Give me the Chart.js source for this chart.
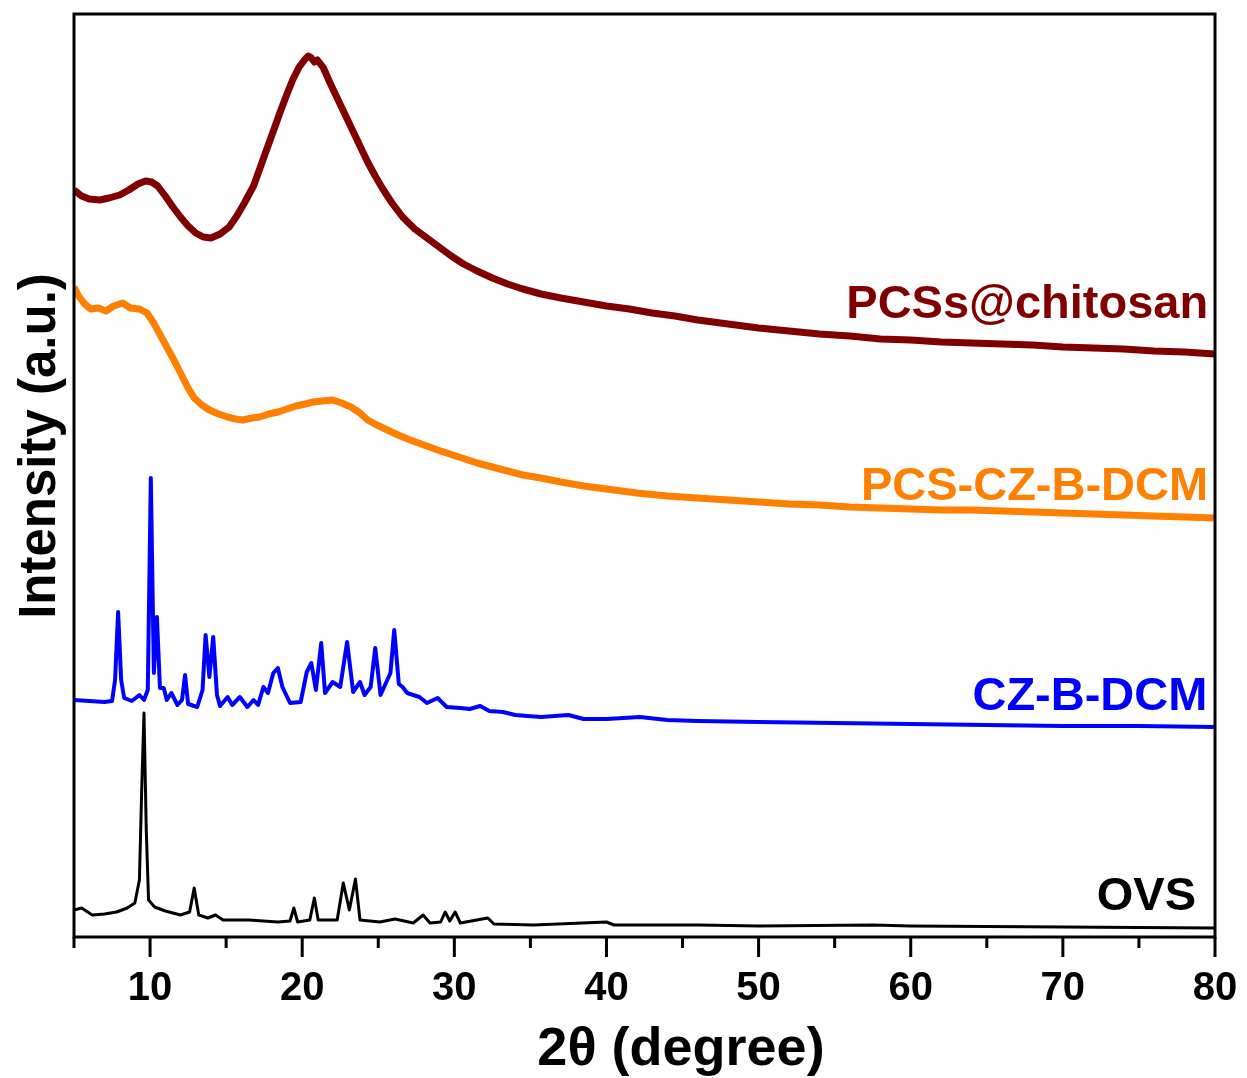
<!DOCTYPE html>
<html>
<head>
<meta charset="utf-8">
<title>DRX</title>
<script src="https://cdn.jsdelivr.net/npm/chart.js@4.4.0/dist/chart.umd.min.js"></script>
<style>
  body { margin: 0; background: #fff; }
</style>
</head>
<body>
<canvas id="chart_drx" width="1247" height="1078"></canvas>
<script>
// Difratogramas: 2θ (graus) e intensidade (u.a.) de cada amostra
var theta_pcs_chitosan = [5.0, 5.5, 6.0, 6.7, 7.3, 8.0, 8.6, 9.2, 9.7, 10.1, 10.5, 11.0, 11.5, 12.0, 12.5, 13.0, 13.5, 14.0, 14.6, 15.2,
  15.7, 16.2, 16.8, 17.3, 17.7, 18.2, 18.6, 19.0, 19.4, 19.8, 20.2, 20.4, 20.6, 20.8, 21.0, 21.4, 21.8, 22.3, 22.8, 23.3,
  23.8, 24.3, 24.8, 25.3, 25.9, 26.6, 27.4, 28.2, 29.0, 29.8, 30.6, 31.5, 32.5, 33.5, 34.5, 35.7, 37.0, 38.5, 40.0, 41.5,
  43.0, 44.5, 46.0, 48.0, 50.0, 52.0, 54.0, 56.0, 58.0, 60.0, 62.0, 64.0, 66.0, 68.0, 70.0, 72.0, 74.0, 76.0, 78.0, 80.0];
var int_pcs_chitosan = [747, 741, 738, 737, 739, 742, 747, 753, 756, 755, 751, 741, 730, 720, 711, 704, 700, 699, 703, 710,
  721, 734, 751, 772, 789, 810, 827, 843, 858, 870, 878, 881, 879, 875, 877, 869, 855, 839, 823, 807,
  791, 775, 761, 748, 734, 720, 708, 699, 690, 681, 673, 666, 659, 653, 648, 643, 639, 635, 631, 628,
  624, 621, 617, 613, 609, 606, 603, 601, 598, 597, 595, 594, 593, 592, 590, 589, 588, 586, 585, 583];

var theta_pcs_cz = [5.0, 5.3, 5.7, 6.1, 6.6, 7.1, 7.6, 8.2, 8.7, 9.3, 9.8, 10.2, 10.6, 11.1, 11.6, 12.0, 12.5, 12.9, 13.4, 13.9,
  14.5, 15.1, 15.6, 16.1, 16.7, 17.2, 17.8, 18.4, 19.0, 19.6, 20.2, 20.7, 21.3, 22.0, 22.6, 23.2, 23.8, 24.3, 24.9, 25.6,
  26.3, 27.1, 28.0, 28.9, 29.7, 30.5, 31.5, 32.5, 33.5, 34.5, 35.7, 37.0, 38.5, 40.0, 42.0, 44.0, 46.0, 48.0, 50.0, 52.0,
  54.0, 56.0, 58.0, 60.0, 62.0, 64.0, 66.0, 68.0, 70.0, 72.0, 74.0, 76.0, 78.0, 80.0];
var int_pcs_cz = [650, 641, 633, 628, 629, 626, 631, 634, 629, 628, 624, 615, 604, 590, 576, 564, 549, 539, 532, 527,
  523, 520, 518, 517, 519, 520, 523, 525, 528, 531, 533, 535, 536, 537, 534, 530, 524, 517, 512, 507,
  502, 497, 492, 487, 483, 479, 474, 470, 466, 462, 459, 455, 451, 448, 444, 441, 439, 437, 435, 433,
  432, 430, 429, 428, 427, 427, 426, 425, 424, 423, 422, 421, 420, 419];

var theta_cz = [5.0, 6.0, 7.0, 7.5, 7.7, 7.9, 8.1, 8.3, 8.8, 9.3, 9.6, 9.85, 10.05, 10.25, 10.45, 10.65, 10.9, 11.1, 11.4, 11.8,
  12.1, 12.3, 12.5, 13.1, 13.45, 13.65, 13.9, 14.15, 14.4, 14.6, 15.1, 15.4, 15.9, 16.4, 16.8, 17.1, 17.45, 17.75, 18.1, 18.4,
  18.7, 19.2, 19.9, 20.3, 20.6, 20.9, 21.25, 21.5, 22.0, 22.5, 22.95, 23.35, 23.8, 24.1, 24.5, 24.8, 25.15, 25.8, 26.05, 26.35,
  26.6, 26.9, 27.3, 27.7, 28.2, 28.9, 29.5, 30.4, 31.0, 31.7, 32.3, 33.2, 34.0, 34.8, 35.7, 37.5, 38.5, 40.0, 42.2, 44.0,
  46.0, 50.0, 55.0, 60.0, 65.0, 70.0, 75.0, 80.0];
var int_cz = [237, 236, 235, 236, 257, 325, 257, 239, 236, 242, 237, 247, 459, 264, 320, 249, 249, 237, 244, 232,
  237, 262, 233, 230, 247, 302, 260, 300, 242, 231, 240, 232, 240, 230, 237, 232, 250, 244, 264, 269,
  250, 234, 235, 265, 274, 247, 294, 244, 255, 250, 295, 245, 255, 242, 250, 289, 242, 264, 307, 253,
  250, 244, 242, 240, 234, 239, 230, 229, 228, 231, 226, 225, 222, 221, 220, 222, 218, 218, 220, 217,
  216, 215, 214, 213, 212, 211, 211, 210];

var theta_ovs = [5.0, 5.5, 6.2, 7.0, 7.8, 8.5, 9.0, 9.3, 9.45, 9.6, 9.75, 9.9, 10.3, 11.0, 12.0, 12.6, 12.9, 13.2, 13.8, 14.3,
  14.8, 16.5, 18.4, 19.2, 19.45, 19.7, 20.5, 20.8, 21.05, 22.3, 22.7, 23.1, 23.5, 23.8, 25.1, 26.1, 27.3, 27.95, 28.4, 29.1,
  29.4, 29.7, 30.05, 30.4, 32.2, 32.6, 35.2, 40.0, 40.5, 46.0, 50.0, 57.5, 60.0, 70.0, 80.0];
var int_ovs = [27, 29, 22, 23, 25, 29, 34, 57, 147, 224, 107, 37, 30, 26, 22, 25, 49, 22, 19, 22,
  17, 17, 15, 16, 29, 15, 17, 39, 17, 17, 54, 27, 58, 17, 15, 18, 14, 22, 14, 15,
  25, 16, 25, 14, 19, 13, 12, 15, 12, 12, 11, 12, 11, 10, 9];

var nomes = ['PCSs@chitosan', 'PCS-CZ-B-DCM', 'CZ-B-DCM', 'OVS'];
var ticks_x = [10, 20, 30, 40, 50, 60, 70, 80];
var ticks_x_menor = [5, 15, 25, 35, 45, 55, 65, 75];

// aparência de cada curva
var cores = ['#800000', '#ff8000', '#0000ff', '#000000'];
var espessuras = [7, 7, 4, 3];
// onde fica o nome de cada amostra (2θ da borda direita, intensidade da linha de base do texto)
var rotulo_x = [79.55, 79.55, 79.5, 78.75];
var rotulo_y = [619, 437, 227, 27];

var fonte = '"Liberation Sans", Arial, Helvetica, sans-serif';

function juntar(xs, ys) {
  return xs.map(function (x, i) { return { x: x, y: ys[i] }; });
}

var series = [
  juntar(theta_pcs_chitosan, int_pcs_chitosan),
  juntar(theta_pcs_cz, int_pcs_cz),
  juntar(theta_cz, int_cz),
  juntar(theta_ovs, int_ovs)
];

// moldura, marcas do eixo x, títulos dos eixos e nomes das amostras
const moldura = {
  id: 'moldura',
  afterDatasetsDraw(chart) {
    const ctx = chart.ctx;
    const a = chart.chartArea;
    const eixo_x = chart.scales.x;
    const eixo_y = chart.scales.y;
    ctx.save();
    ctx.strokeStyle = '#000';
    ctx.lineWidth = 3;
    ctx.strokeRect(a.left, a.top, a.right - a.left, a.bottom - a.top);

    ctx.beginPath();
    ticks_x.forEach(function (v) {
      const px = eixo_x.getPixelForValue(v);
      ctx.moveTo(px, a.bottom);
      ctx.lineTo(px, a.bottom + 20);
    });
    ticks_x_menor.forEach(function (v) {
      const px = eixo_x.getPixelForValue(v);
      ctx.moveTo(px, a.bottom);
      ctx.lineTo(px, a.bottom + 11);
    });
    ctx.stroke();

    ctx.font = 'bold 47px ' + fonte;
    ctx.textAlign = 'right';
    ctx.textBaseline = 'alphabetic';
    nomes.forEach(function (nome, i) {
      ctx.fillStyle = cores[i];
      ctx.fillText(nome, eixo_x.getPixelForValue(rotulo_x[i]), eixo_y.getPixelForValue(rotulo_y[i]));
    });

    // títulos dos eixos
    ctx.fillStyle = '#000';
    ctx.textAlign = 'center';
    ctx.font = 'bold 54px ' + fonte;
    ctx.fillText('2θ (degree)', 681, 1065);

    ctx.translate(55, 446);
    ctx.rotate(-Math.PI / 2);
    ctx.font = 'bold 51px ' + fonte;
    ctx.fillText('Intensity (a.u.)', 0, 0);
    ctx.restore();
  }
};

const drx = document.getElementById('chart_drx');

new Chart(drx, {
  type: 'line',
  data: {
    datasets: series.map(function (dados, i) {
      return {
        label: nomes[i],
        data: dados,
        borderColor: cores[i],
        backgroundColor: cores[i],
        borderWidth: espessuras[i],
        pointRadius: 0,
        tension: 0,
        borderJoinStyle: 'round',
        fill: false
      };
    })
  },
  options: {
    responsive: false,
    animation: false,
    layout: { padding: { top: 14, right: 32, left: 0, bottom: 0 } },
    plugins: {
      legend: { display: false },
      tooltip: { enabled: false }
    },
    scales: {
      x: {
        type: 'linear',
        min: 5,
        max: 80,
        afterFit: function (scale) {
          scale.height = 141;
          // o rótulo "80" pode passar da borda sem encolher o gráfico
          scale.paddingLeft = 0;
          scale.paddingRight = 0;
        },
        afterBuildTicks: function (scale) {
          scale.ticks = ticks_x.map(function (v) { return { value: v }; });
        },
        grid: { display: false, drawTicks: false },
        border: { display: false },
        ticks: {
          color: '#000',
          padding: 28,
          maxRotation: 0,
          font: { family: fonte, size: 40, weight: 'bold', lineHeight: 1.2 }
        }
      },
      y: {
        min: 0,
        max: 923,
        afterFit: function (scale) { scale.width = 74; },
        grid: { display: false, drawTicks: false },
        border: { display: false },
        ticks: { display: false }
      }
    }
  },
  plugins: [moldura]
});
</script>
</body>
</html>
